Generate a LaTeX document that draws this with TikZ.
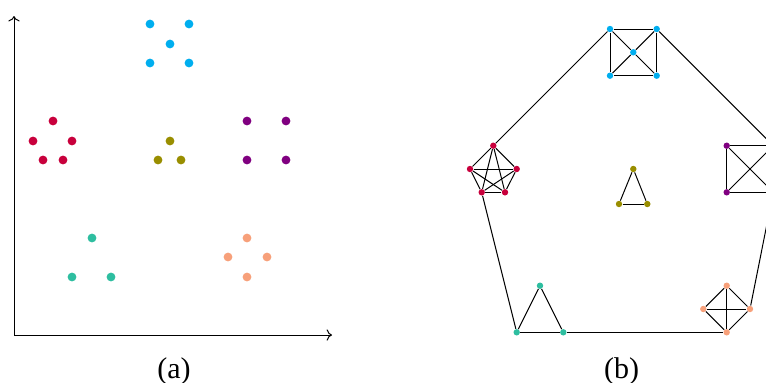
\documentclass[tikz,border=0pt]{standalone}
\usepackage{fontspec}
\setmainfont{Liberation Serif}
\usepackage{xcolor}
\usetikzlibrary{arrows.meta}

\definecolor{clcyan}{RGB}{0,174,239}
\definecolor{clred}{RGB}{200,0,60}
\definecolor{clolive}{RGB}{153,142,0}
\definecolor{clpurple}{RGB}{128,0,128}
\definecolor{clteal}{RGB}{46,190,160}
\definecolor{clsalmon}{RGB}{247,160,122}

\begin{document}
\begin{tikzpicture}[x=0.5pt,y=-0.5pt,
  pt/.style={circle,fill=#1,inner sep=0pt,minimum size=4.4pt},
  vx/.style={circle,fill=#1,inner sep=0pt,minimum size=3.2pt},
  edge/.style={line width=0.5pt},
  lbl/.style={font=\fontsize{15}{17}\selectfont}]
  \clip (0,0) rectangle (766,382);

  % (a) points in the plane
  \coordinate (o) at (14,335);
  \coordinate (ytop) at (14,16);
  \coordinate (xend) at (332,335);
  \draw[->,line width=0.5pt] (o)--(ytop);
  \draw[->,line width=0.5pt] (o)--(xend);
  \node[pt=clcyan] (a1) at (150,24) {};
  \node[pt=clcyan] (a2) at (189,24) {};
  \node[pt=clcyan] (a3) at (170,44) {};
  \node[pt=clcyan] (a4) at (150,63) {};
  \node[pt=clcyan] (a5) at (189,63) {};
  \node[pt=clred] (b1) at (53,121) {};
  \node[pt=clred] (b2) at (33,141) {};
  \node[pt=clred] (b3) at (72,141) {};
  \node[pt=clred] (b4) at (43,160) {};
  \node[pt=clred] (b5) at (63,160) {};
  \node[pt=clolive] (c1) at (170,141) {};
  \node[pt=clolive] (c2) at (158,160) {};
  \node[pt=clolive] (c3) at (181,160) {};
  \node[pt=clpurple] (d1) at (247,121) {};
  \node[pt=clpurple] (d2) at (286,121) {};
  \node[pt=clpurple] (d3) at (247,160) {};
  \node[pt=clpurple] (d4) at (286,160) {};
  \node[pt=clteal] (e1) at (92,238) {};
  \node[pt=clteal] (e2) at (72,277) {};
  \node[pt=clteal] (e3) at (111,277) {};
  \node[pt=clsalmon] (f1) at (247,238) {};
  \node[pt=clsalmon] (f2) at (228,257) {};
  \node[pt=clsalmon] (f3) at (267,257) {};
  \node[pt=clsalmon] (f4) at (247,277) {};
  \node[lbl] (capa) at (174,371) {(a)};

  % (b) the graph
  \node[vx=clcyan] (A1) at (610,29) {};
  \node[vx=clcyan] (A2) at (656.7,29) {};
  \node[vx=clcyan] (A3) at (633.3,52.3) {};
  \node[vx=clcyan] (A4) at (610,75.7) {};
  \node[vx=clcyan] (A5) at (656.7,75.7) {};
  \node[vx=clred] (B1) at (493.3,145.7) {};
  \node[vx=clred] (B2) at (470,169) {};
  \node[vx=clred] (B3) at (516.7,169) {};
  \node[vx=clred] (B4) at (481.7,192.3) {};
  \node[vx=clred] (B5) at (505,192.3) {};
  \node[vx=clolive] (C1) at (633.3,169) {};
  \node[vx=clolive] (C2) at (619,204) {};
  \node[vx=clolive] (C3) at (647.3,204) {};
  \node[vx=clpurple] (D1) at (726.7,145.7) {};
  \node[vx=clpurple] (D2) at (773.3,145.7) {};
  \node[vx=clpurple] (D3) at (726.7,192.3) {};
  \node[vx=clpurple] (D4) at (773.3,192.3) {};
  \node[vx=clteal] (E1) at (540,285.7) {};
  \node[vx=clteal] (E2) at (516.7,332.3) {};
  \node[vx=clteal] (E3) at (563.3,332.3) {};
  \node[vx=clsalmon] (F1) at (726.7,285.7) {};
  \node[vx=clsalmon] (F2) at (703.3,309) {};
  \node[vx=clsalmon] (F3) at (750,309) {};
  \node[vx=clsalmon] (F4) at (726.7,332.3) {};
  \node[lbl] (capb) at (621.7,371) {(b)};

  % edges inside the clusters
  \foreach \u/\v in {A1/A2,A2/A5,A5/A4,A4/A1,A3/A1,A3/A2,A3/A4,A3/A5,
                     B1/B2,B1/B3,B1/B4,B1/B5,B2/B3,B2/B4,B2/B5,B3/B4,B3/B5,B4/B5,
                     C1/C2,C2/C3,C3/C1,
                     D1/D2,D2/D4,D4/D3,D3/D1,D1/D4,D2/D3,
                     E1/E2,E2/E3,E3/E1,
                     F1/F2,F1/F3,F1/F4,F2/F3,F2/F4,F3/F4}
    \draw[edge] (\u)--(\v);
  % edges between the clusters
  \foreach \u/\v in {A1/B1,A2/D2,B4/E2,E3/F4,F3/D4}
    \draw[edge] (\u)--(\v);
\end{tikzpicture}
\end{document}
